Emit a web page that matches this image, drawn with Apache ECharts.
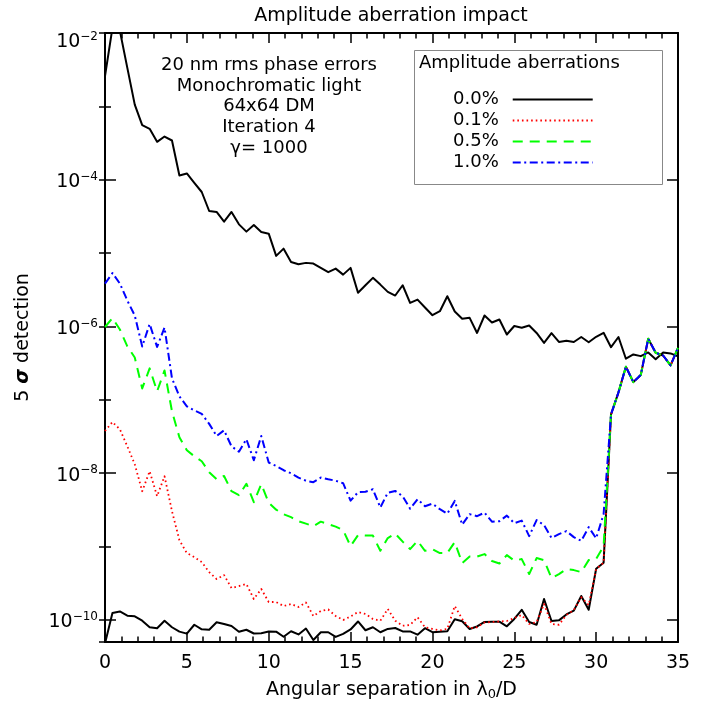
<!DOCTYPE html>
<html>
<head>
<meta charset="utf-8">
<title>Amplitude aberration impact</title>
<script src="https://cdn.jsdelivr.net/npm/echarts@6/dist/echarts.min.js"></script>
<style>
  html, body { margin: 0; padding: 0; background: #fff; }
  #chart { width: 709px; height: 709px; }
</style>
</head>
<body>
<div id="chart"></div>
<script>
// angular separation of each sample, in lambda0/D (2.2 samples per lambda/D)
const separation = [
  0, 0.455, 0.909, 1.364, 1.818, 2.273, 2.727, 3.182, 3.636, 4.091,
  4.545, 5, 5.455, 5.909, 6.364, 6.818, 7.273, 7.727, 8.182, 8.636,
  9.091, 9.545, 10, 10.455, 10.909, 11.364, 11.818, 12.273, 12.727, 13.182,
  13.636, 14.091, 14.545, 15, 15.455, 15.909, 16.364, 16.818, 17.273, 17.727,
  18.182, 18.636, 19.091, 19.545, 20, 20.455, 20.909, 21.364, 21.818, 22.273,
  22.727, 23.182, 23.636, 24.091, 24.545, 25, 25.455, 25.909, 26.364, 26.818,
  27.273, 27.727, 28.182, 28.636, 29.091, 29.545, 30, 30.455, 30.909, 31.364,
  31.818, 32.273, 32.727, 33.182, 33.636, 34.091, 34.545, 35
];

// all values are log10 of the 5 sigma detection level
// speckle level before correction (upper black curve)
const initialLog = [
  -2.589, -1.93, -1.97, -2.476, -2.976, -3.256, -3.306, -3.483, -3.411, -3.465,
  -3.941, -3.914, -4.041, -4.167, -4.426, -4.439, -4.571, -4.439, -4.608, -4.707,
  -4.616, -4.712, -4.735, -5.038, -4.939, -5.120, -5.152, -5.133, -5.143, -5.201,
  -5.259, -5.211, -5.293, -5.201, -5.541, -5.438, -5.337, -5.429, -5.528, -5.578,
  -5.438, -5.678, -5.633, -5.741, -5.846, -5.792, -5.588, -5.796, -5.895, -5.882,
  -6.088, -5.850, -5.946, -5.905, -6.109, -5.993, -6.018, -5.986, -6.088, -6.224,
  -6.091, -6.211, -6.193, -6.211, -6.143, -6.214, -6.140, -6.086, -6.282, -6.143,
  -6.439, -6.381, -6.404, -6.354, -6.445, -6.354, -6.367, -6.408
];

// outside the corrected zone all corrected curves coincide
const beyondEdge = [-7.197, -6.898, -6.548, -6.758, -6.660, -6.167, -6.358, -6.395, -6.531, -6.290];

const amp00Log = [
  -10.32, -9.905, -9.884, -9.941, -9.950, -10.010, -10.099, -10.112, -10.011, -10.099,
  -10.159, -10.186, -10.065, -10.127, -10.132, -10.031, -10.054, -10.082, -10.160, -10.133,
  -10.184, -10.180, -10.156, -10.159, -10.229, -10.154, -10.197, -10.117, -10.272, -10.167,
  -10.167, -10.231, -10.190, -10.129, -10.020, -10.140, -10.099, -10.167, -10.122, -10.109,
  -10.156, -10.156, -10.200, -10.112, -10.167, -10.159, -10.154, -9.990, -10.018, -10.122,
  -10.088, -10.027, -10.023, -10.023, -10.086, -9.986, -9.861, -10.027, -10.065, -9.714,
  -10.014, -10.005, -9.925, -9.873, -9.673, -9.860, -9.302, -9.220
].concat(beyondEdge);

const amp01Log = [
  -7.424, -7.302, -7.401, -7.633, -7.878, -8.245, -7.973, -8.313, -8.041, -8.517,
  -8.912, -9.088, -9.143, -9.211, -9.347, -9.442, -9.388, -9.565, -9.537, -9.510,
  -9.714, -9.578, -9.755, -9.755, -9.810, -9.782, -9.823, -9.762, -9.946, -9.878,
  -9.857, -9.946, -10.000, -9.952, -9.891, -9.918, -9.986, -10.010, -9.850, -10.010,
  -10.078, -10.068, -9.963, -10.099, -10.122, -10.143, -10.122, -9.810, -9.986, -10.113,
  -10.099, -10.034, -10.027, -10.020, -10.014, -9.973, -9.932, -10.054, -10.030, -9.782,
  -10.054, -10.065, -9.932, -9.864, -9.691, -9.796, -9.306, -9.220
].concat(beyondEdge);

const amp05Log = [
  -6.007, -5.884, -6.041, -6.272, -6.422, -6.844, -6.571, -6.884, -6.599, -7.156,
  -7.510, -7.687, -7.769, -7.837, -7.986, -8.082, -8.037, -8.245, -8.299, -8.143,
  -8.395, -8.150, -8.401, -8.497, -8.558, -8.599, -8.653, -8.687, -8.721, -8.660,
  -8.694, -8.728, -8.776, -8.993, -8.844, -8.850, -8.850, -9.057, -8.884, -8.823,
  -8.932, -9.034, -8.921, -9.057, -9.034, -9.088, -9.088, -8.939, -9.224, -9.136,
  -9.136, -9.102, -9.197, -9.231, -9.116, -9.190, -9.170, -9.374, -9.156, -9.184,
  -9.429, -9.374, -9.306, -9.320, -9.347, -9.184, -9.170, -8.993
].concat(beyondEdge);

const amp10Log = [
  -5.415, -5.272, -5.415, -5.646, -5.850, -6.272, -5.966, -6.279, -6.014, -6.707,
  -6.952, -7.088, -7.143, -7.190, -7.327, -7.493, -7.415, -7.633, -7.707, -7.537,
  -7.823, -7.493, -7.854, -7.901, -7.959, -8.000, -8.059, -8.102, -8.122, -8.059,
  -8.082, -8.102, -8.136, -8.374, -8.259, -8.252, -8.218, -8.467, -8.265, -8.241,
  -8.313, -8.483, -8.354, -8.449, -8.415, -8.490, -8.551, -8.377, -8.701, -8.558,
  -8.585, -8.537, -8.660, -8.653, -8.578, -8.680, -8.646, -8.857, -8.639, -8.707,
  -8.882, -8.830, -8.789, -8.871, -8.921, -8.735, -8.888, -8.558
].concat(beyondEdge);

const legendNames = ['0.0%', '0.1%', '0.5%', '1.0%'];
const noteLines = ['20 nm rms phase errors', 'Monochromatic light', '64x64 DM', 'Iteration 4', 'γ= 1000'];

const FONT = 'DejaVu Sans';
const yMin = -10.3, yMax = -2;

const pair = (ys) => ys.map((y, i) => [separation[i], y]);

// only even decades get a label, as 10^n; the top one sits a bit lower like the original
const yLabel = (v) => {
  const r = Math.round(v);
  if (Math.abs(v - r) > 1e-6 || r % 2 !== 0) return '';
  const txt = '{b|10}{s|−' + (-r) + '}';
  return r === yMax ? '{pad| }\n' + txt : txt;
};

const yAxisBase = (extra) => Object.assign({
  type: 'value', min: yMin, max: yMax,
  axisLine: { show: true, onZero: false, lineStyle: { color: '#000', width: 2 } },
  axisTick: { show: true, inside: true, length: 11, lineStyle: { color: '#000', width: 1.5 } },
  axisLabel: { show: false },
  splitLine: { show: false }
}, extra);

const xAxisBase = (extra) => Object.assign({
  type: 'value', min: 0, max: 35, interval: 5,
  axisLine: { show: true, onZero: false, lineStyle: { color: '#000', width: 2 } },
  axisTick: { show: true, inside: true, length: 10, lineStyle: { color: '#000', width: 1.5 } },
  minorTick: { show: true, splitNumber: 5, length: 5.5, lineStyle: { color: '#000', width: 1.5 } },
  axisLabel: { show: false },
  splitLine: { show: false }
}, extra);

const lineSeries = (name, ys, color, type, width, z) => ({
  name, type: 'line', data: pair(ys),
  xAxisIndex: 0, yAxisIndex: 0,
  symbol: 'none', showSymbol: false, clip: true, z,
  lineStyle: { color, width, type, cap: 'butt', join: 'round' },
  itemStyle: { color }
});

const minorYTick = { show: true, inside: true, length: 6, lineStyle: { color: '#000', width: 1.5 } };

const chart = echarts.init(document.getElementById('chart'), null, { renderer: 'canvas' });

chart.setOption({
  animation: false,
  backgroundColor: '#fff',
  textStyle: { fontFamily: FONT },
  grid: { left: 105, right: 31, top: 33, bottom: 67, containLabel: false },
  xAxis: [
    xAxisBase({
      position: 'bottom',
      axisLabel: { show: true, color: '#000', fontSize: 19, fontFamily: FONT, margin: 12 },
      name: 'Angular separation in λ{sub|0}/D',
      nameLocation: 'middle',
      nameGap: 38,
      nameTextStyle: {
        color: '#000', fontSize: 19, fontFamily: FONT, verticalAlign: 'top',
        rich: { sub: { fontSize: 13, fontFamily: FONT, color: '#000', verticalAlign: 'bottom', padding: [8, 0, 0, 0] } }
      }
    }),
    xAxisBase({ position: 'top' })
  ],
  yAxis: [
    yAxisBase({
      position: 'left', splitNumber: 4,
      axisLabel: {
        show: true, margin: 7, formatter: yLabel,
        rich: {
          pad: { fontSize: 8, lineHeight: 14 },
          b: { fontSize: 19, fontFamily: FONT, color: '#000', lineHeight: 24, verticalAlign: 'bottom' },
          s: { fontSize: 12, fontFamily: FONT, color: '#000', lineHeight: 13, verticalAlign: 'top', padding: [3, 0, 0, 0] }
        }
      },
      name: '5 {g|σ} detection',
      nameLocation: 'middle',
      nameGap: 72,
      nameRotate: 90,
      nameTextStyle: {
        color: '#000', fontSize: 19, fontFamily: FONT,
        rich: { g: { fontSize: 19, fontFamily: FONT, color: '#000', fontWeight: 'bold', fontStyle: 'italic' } }
      }
    }),
    yAxisBase({ position: 'left', splitNumber: 8, axisLine: { show: false }, axisTick: minorYTick }),
    yAxisBase({ position: 'right', splitNumber: 4 }),
    yAxisBase({ position: 'right', splitNumber: 8, axisLine: { show: false }, axisTick: minorYTick })
  ],
  legend: {
    data: legendNames,
    orient: 'vertical',
    align: 'right',
    left: 453,
    top: 89,
    padding: 0,
    itemWidth: 80,
    itemHeight: 14,
    itemGap: 0,
    selectedMode: false,
    itemStyle: { opacity: 0 },
    textStyle: { color: '#000', fontSize: 18, fontFamily: FONT, lineHeight: 21, padding: [0, 9, 0, 0] }
  },
  graphic: [
    {
      type: 'text', silent: true,
      style: { text: 'Amplitude aberration impact', x: 391, y: 16, align: 'center', verticalAlign: 'middle', textAlign: 'center', textVerticalAlign: 'middle', fontSize: 19, fontFamily: FONT, fill: '#000' }
    },
    {
      type: 'text', silent: true,
      style: { text: noteLines.join('\n'), x: 269, y: 55, align: 'center', verticalAlign: 'top', textAlign: 'center', textVerticalAlign: 'top', lineHeight: 20.7, fontSize: 18, fontFamily: FONT, fill: '#000' }
    },
    {
      type: 'rect', silent: true,
      shape: { x: 414.5, y: 50.5, width: 248, height: 134 },
      style: { fill: 'none', stroke: '#888', lineWidth: 1 }
    },
    {
      type: 'text', silent: true,
      style: { text: 'Amplitude aberrations', x: 419, y: 63, align: 'left', verticalAlign: 'middle', textAlign: 'left', textVerticalAlign: 'middle', fontSize: 18, fontFamily: FONT, fill: '#000' }
    }
  ],
  series: [
    lineSeries('Before correction', initialLog, '#000', 'solid', 2, 2),
    lineSeries('0.0%', amp00Log, '#000', 'solid', 2, 3),
    lineSeries('0.1%', amp01Log, '#ff0000', [1.6, 3], 1.8, 4),
    lineSeries('0.5%', amp05Log, '#00ff00', [10, 7], 2, 5),
    lineSeries('1.0%', amp10Log, '#0000ff', [8, 3.5, 2, 3.5], 2, 6)
  ]
});
</script>
</body>
</html>
